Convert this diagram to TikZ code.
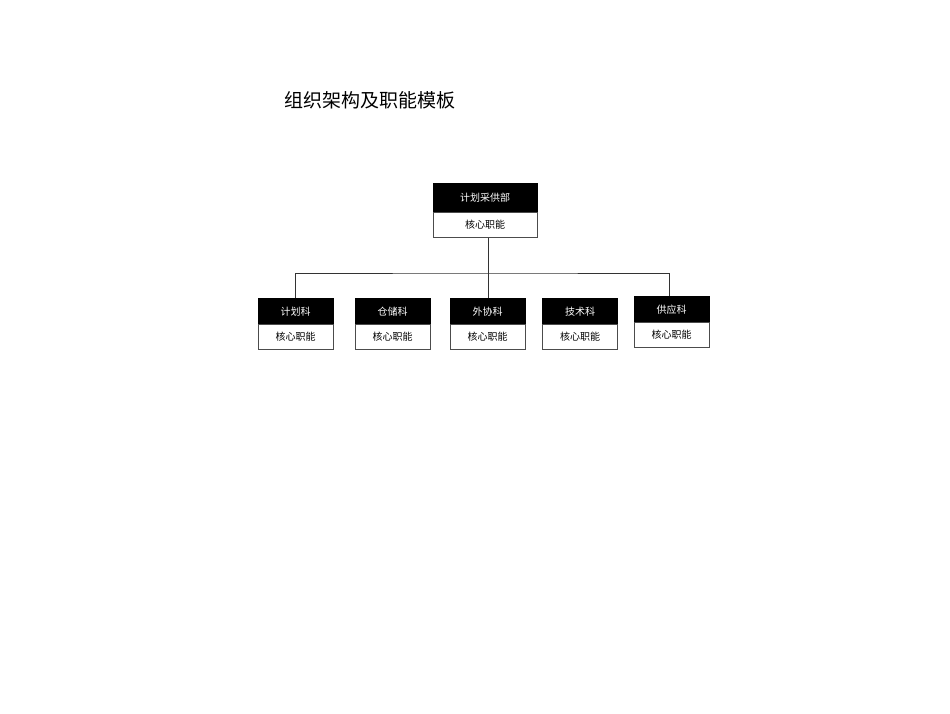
\documentclass[tikz,border=0pt]{standalone}
\usepackage{fontspec}
\newfontfamily\cjk{Noto Sans CJK SC}
\begin{document}
\begin{tikzpicture}[x=1pt,y=-1pt,
  hd/.style={draw=black,fill=black,text=white,inner sep=0pt,font=\cjk\fontsize{10}{12}\selectfont},
  bd/.style={draw=black!70,fill=white,inner sep=0pt,font=\cjk\fontsize{10}{12}\selectfont},
  ln/.style={draw=black!80,line width=0.8pt}]
\useasboundingbox (0,0) rectangle (950,713);
\node[font=\cjk\fontsize{19}{22}\selectfont,anchor=west] (title) at (281,100) {组织架构及职能模板};
% top
\node[hd,minimum width=104pt,minimum height=29pt] (th) at (485,197.5) {计划采供部};
\node[bd,minimum width=104pt,minimum height=25pt,anchor=north] (tb) at (th.south) {核心职能};
\coordinate (bus) at (488,273);
\foreach \n/\cx/\ty/\t in {a/295.5/298/计划科,b/392.5/298/仓储科,c/487.5/298/外协科,d/580/298/技术科,e/671.5/296/供应科}{
  \node[hd,minimum width=75pt,minimum height=26pt,anchor=north] (\n h) at (\cx,\ty) {\t};
  \node[bd,minimum width=75pt,minimum height=25pt,anchor=north] (\n b) at (\n h.south) {核心职能};
}
\draw[ln] (tb.south -| bus) -- (bus);
\draw[ln] (ah.north -| 295,0) |- (bus) -| (eh.north -| 669,0);
\draw[ln] (bh.north -| 392,0) -- (bh.north -| 392,0 |- bus);
\draw[ln] (ch.north -| 488,0) -- (bus);
\draw[ln] (dh.north -| 580,0) -- (dh.north -| 580,0 |- bus);
\end{tikzpicture}
\end{document}
